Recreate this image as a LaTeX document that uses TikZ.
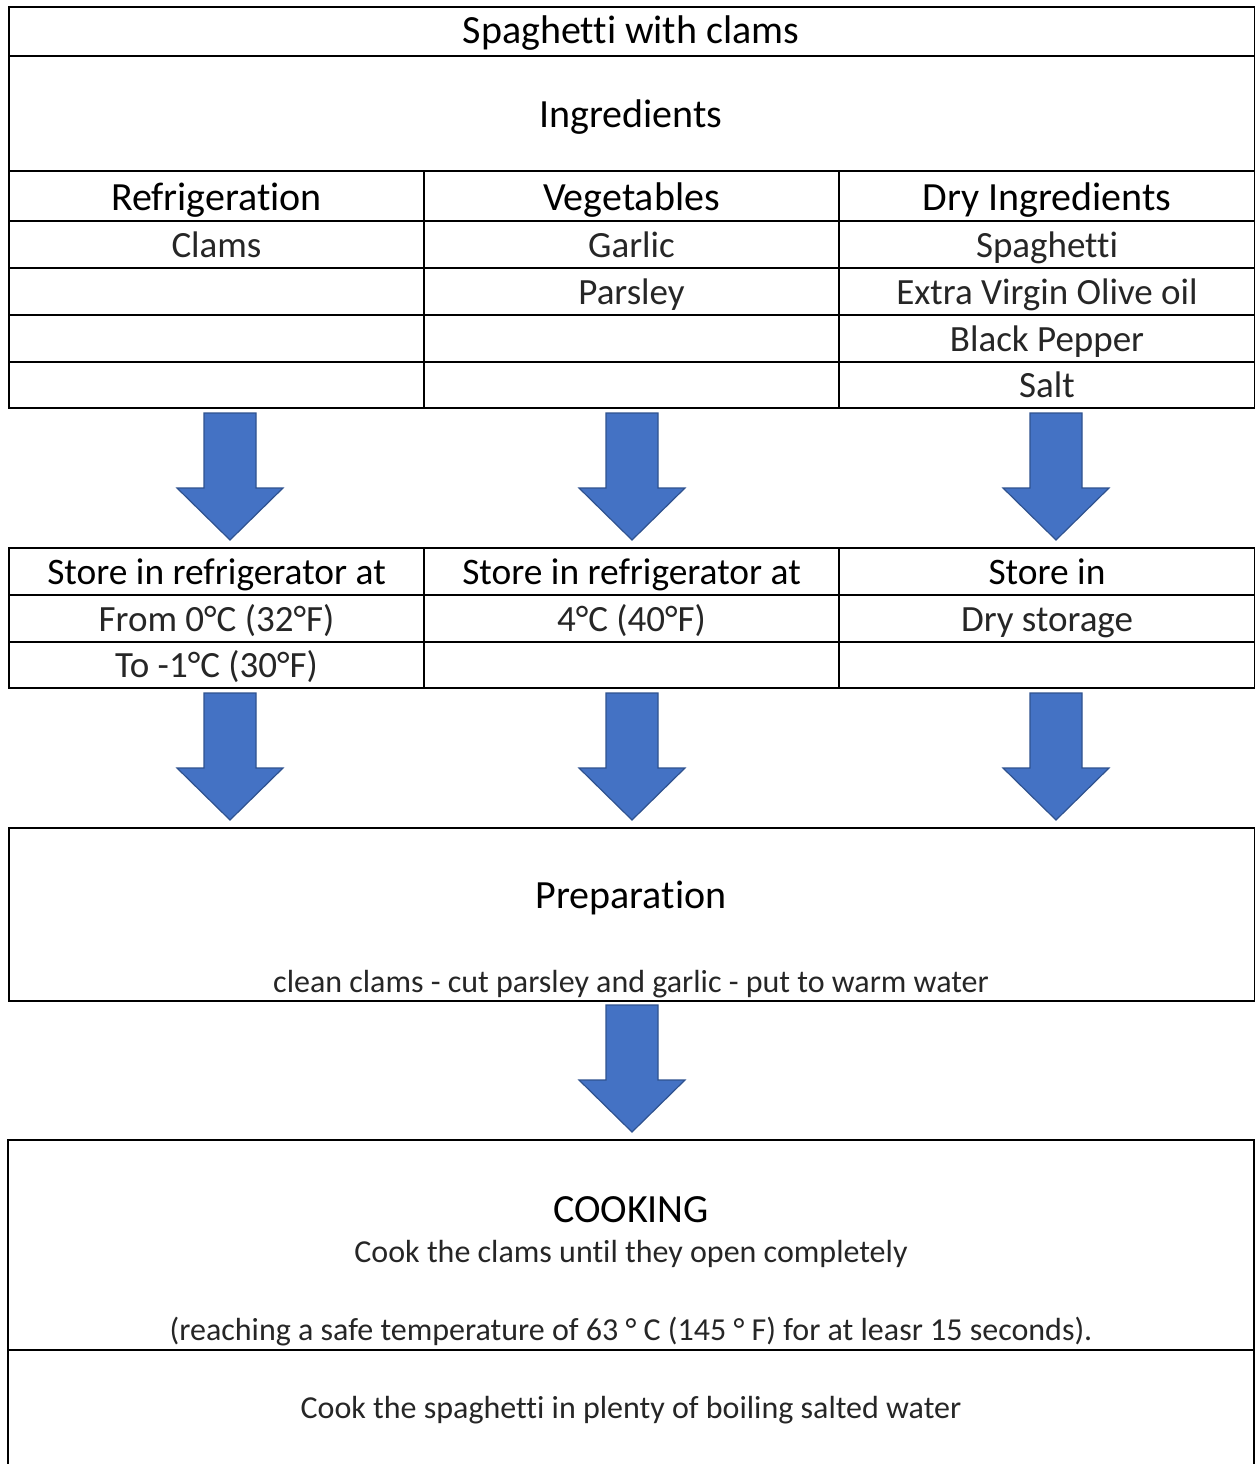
\documentclass[tikz,border=0pt]{standalone}
\usepackage{fontspec}
\setmainfont{Carlito}[Ligatures=NoCommon]
\definecolor{arrowblue}{HTML}{4472C4}
\definecolor{arrowedge}{HTML}{2F528F}
\definecolor{bodytext}{HTML}{262626}
\newcommand\headfnt{\fontsize{40}{46}\selectfont}
\newcommand\storefnt{\fontsize{37.4}{44}\selectfont}
\newcommand\cellfnt{\fontsize{37}{44}\selectfont}
\newcommand\bodyfnt{\fontsize{32}{38}\selectfont}
\begin{document}
\begin{tikzpicture}[x=1pt,y=-1pt,
  cell/.style={draw=black, line width=2pt, minimum width=415pt, minimum height=47pt,
    inner sep=0pt, anchor=north west, text=bodytext, font=\cellfnt,
    text height=25pt, text depth=0pt},
  headcell/.style={cell, text=black, font=\headfnt, text height=28pt},
  storecell/.style={cell, text=black, font=\storefnt, text height=25pt},
  wide/.style={draw=black, line width=2pt, minimum width=1246pt, inner sep=0pt, anchor=north west},
  headtxt/.style={anchor=base, inner sep=0pt, text=black, font=\headfnt},
  bodytxt/.style={anchor=base, inner sep=0pt, text=bodytext, font=\bodyfnt},
  barrow/.pic={\draw[fill=arrowblue, draw=arrowedge, line width=1.2pt, line join=miter]
     (-26,0) -- (26,0) -- (26,75) -- (53,75) -- (0,127) -- (-53,75) -- (-26,75) -- cycle;}
]
\useasboundingbox (0,0) rectangle (1255,1464);
\fill[white] (0,0) rectangle (1255,1464);

% ---- top table ----
\node[wide, minimum height=49pt] (title) at (8,6) {};
\node[headtxt] (titletxt) at (631,44) {Spaghetti with clams};
\node[wide, minimum height=115pt] (ingr) at (8,55) {};
\node[headtxt] (ingrtxt) at (631,127) {Ingredients};

\node[headcell, minimum height=50pt] (c1h) at (8,170) {Refrigeration};
\node[headcell, minimum height=50pt] (c2h) at (423,170) {Vegetables};
\node[headcell, minimum height=50pt, minimum width=416pt] (c3h) at (838,170) {Dry Ingredients};

\node[cell] (c1a) at (8,220) {Clams};
\node[cell] (c2a) at (423,220) {Garlic};
\node[cell, minimum width=416pt] (c3a) at (838,220) {Spaghetti};
\node[cell] (c1b) at (8,267) {};
\node[cell] (c2b) at (423,267) {Parsley};
\node[cell, minimum width=416pt] (c3b) at (838,267) {Extra Virgin Olive oil};
\node[cell] (c1c) at (8,314) {};
\node[cell] (c2c) at (423,314) {};
\node[cell, minimum width=416pt] (c3c) at (838,314) {Black Pepper};
\node[cell, minimum height=46pt] (c1d) at (8,361) {};
\node[cell, minimum height=46pt] (c2d) at (423,361) {};
\node[cell, minimum height=46pt, minimum width=416pt] (c3d) at (838,361) {Salt};

% ---- arrows row 1 ----
\pic at (230,413) {barrow};
\pic at (632,413) {barrow};
\pic at (1056,413) {barrow};

% ---- storage table ----
\node[storecell] (s1h) at (8,547) {Store in refrigerator at};
\node[storecell] (s2h) at (423,547) {Store in refrigerator at};
\node[storecell, minimum width=416pt] (s3h) at (838,547) {Store in};
\node[cell] (s1a) at (8,594) {From 0°C (32°F)};
\node[cell] (s2a) at (423,594) {4°C (40°F)};
\node[cell, minimum width=416pt] (s3a) at (838,594) {Dry storage};
\node[cell, minimum height=46pt] (s1b) at (8,641) {To -1°C (30°F)};
\node[cell, minimum height=46pt] (s2b) at (423,641) {};
\node[cell, minimum height=46pt, minimum width=416pt] (s3b) at (838,641) {};

% ---- arrows row 2 ----
\pic at (230,693) {barrow};
\pic at (632,693) {barrow};
\pic at (1056,693) {barrow};

% ---- preparation ----
\node[wide, minimum height=173pt] (prep) at (8,827) {};
\node[headtxt] (preptxt) at (631,908) {Preparation};
\node[bodytxt] (prepsub) at (631,992) {clean clams - cut parsley and garlic - put to warm water};

% ---- arrow 3 ----
\pic at (632,1005) {barrow};

% ---- cooking ----
\coordinate (ckbl) at (8,1464);
\coordinate (cktl) at (8,1140);
\coordinate (cktr) at (1254,1140);
\coordinate (ckbr) at (1254,1464);
\coordinate (ckml) at (8,1350);
\coordinate (ckmr) at (1254,1350);
\draw[line width=2pt] (ckbl) -- (cktl) -- (cktr) -- (ckbr);
\draw[line width=2pt] (ckml) -- (ckmr);
\node[headtxt] (cooktxt) at (631,1222) {COOKING};
\node[bodytxt] (cook1) at (631,1262) {Cook the clams until they open completely};
\node[bodytxt] (cook2) at (631,1340) {(reaching a safe temperature of 63 ° C (145 ° F) for at leasr 15 seconds).};
\node[bodytxt] (cook3) at (631,1418) {Cook the spaghetti in plenty of boiling salted water};
\end{tikzpicture}
\end{document}
